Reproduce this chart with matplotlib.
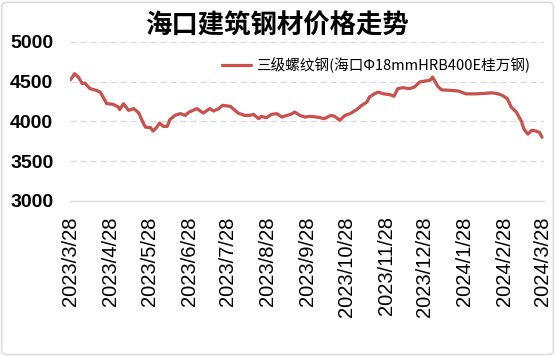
import matplotlib
matplotlib.use("Agg")
import matplotlib.pyplot as plt
from matplotlib.patches import FancyBboxPatch
import pandas as pd

# 三级螺纹钢 海口 价格 (元/吨)
dates = [
    "2023/3/28", "2023/3/31", "2023/4/3", "2023/4/6", "2023/4/8", "2023/4/12",
    "2023/4/17", "2023/4/20", "2023/4/25", "2023/4/30", "2023/5/4", "2023/5/5",
    "2023/5/8", "2023/5/12", "2023/5/16", "2023/5/20", "2023/5/23", "2023/5/25",
    "2023/5/29", "2023/5/31", "2023/6/3", "2023/6/5", "2023/6/8", "2023/6/11",
    "2023/6/13", "2023/6/17", "2023/6/21", "2023/6/25", "2023/6/28", "2023/7/4",
    "2023/7/9", "2023/7/14", "2023/7/17", "2023/7/21", "2023/7/24", "2023/7/30",
    "2023/8/1", "2023/8/5", "2023/8/10", "2023/8/14", "2023/8/17", "2023/8/21",
    "2023/8/23", "2023/8/27", "2023/8/31", "2023/9/4", "2023/9/8", "2023/9/12",
    "2023/9/15", "2023/9/18", "2023/9/22", "2023/9/26", "2023/9/30", "2023/10/5",
    "2023/10/11", "2023/10/16", "2023/10/19", "2023/10/23", "2023/10/27", "2023/10/31",
    "2023/11/5", "2023/11/9", "2023/11/13", "2023/11/15", "2023/11/19", "2023/11/22",
    "2023/11/25", "2023/12/1", "2023/12/4", "2023/12/7", "2023/12/11", "2023/12/16",
    "2023/12/20", "2023/12/24", "2023/12/28", "2024/1/1", "2024/1/3", "2024/1/7",
    "2024/1/10", "2024/1/16", "2024/1/23", "2024/1/29", "2024/2/5", "2024/2/11",
    "2024/2/18", "2024/2/22", "2024/2/26", "2024/3/1", "2024/3/4", "2024/3/8",
    "2024/3/12", "2024/3/14", "2024/3/17", "2024/3/20", "2024/3/23", "2024/3/26",
    "2024/3/28",
]
prices = [
    4524, 4599, 4556, 4474, 4481, 4411,
    4389, 4368, 4222, 4214, 4180, 4147,
    4222, 4138, 4160, 4104, 3991, 3928,
    3921, 3878, 3928, 3979, 3937, 3937,
    4021, 4075, 4097, 4075, 4117, 4160,
    4104, 4160, 4129, 4160, 4201, 4188,
    4160, 4104, 4075, 4075, 4088, 4034,
    4063, 4046, 4088, 4097, 4054, 4075,
    4088, 4117, 4075, 4054, 4063, 4054,
    4034, 4075, 4063, 4013, 4075, 4097,
    4147, 4201, 4242, 4305, 4348, 4368,
    4348, 4335, 4314, 4411, 4423, 4411,
    4431, 4494, 4506, 4515, 4556, 4440,
    4395, 4390, 4381, 4345, 4345, 4350,
    4358, 4350, 4327, 4285, 4180, 4117,
    4000, 3900, 3840, 3887, 3880, 3860,
    3800,
]
tick_labels = [
    "2023/3/28", "2023/4/28", "2023/5/28", "2023/6/28", "2023/7/28",
    "2023/8/28", "2023/9/28", "2023/10/28", "2023/11/28", "2023/12/28",
    "2024/1/28", "2024/2/28", "2024/3/28",
]
yticks = [3000, 3500, 4000, 4500, 5000]

title = "海口建筑钢材价格走势"
series_name = "三级螺纹钢(海口Φ18mmHRB400E桂万钢)"

cjk = ["Noto Sans CJK SC", "DejaVu Sans"]
W, H = 555, 356

fig = plt.figure(figsize=(W / 100, H / 100), dpi=100)
ax = fig.add_axes([70 / W, 1 - 201 / H, (544 - 70) / W, (201 - 41.7) / H])

x = pd.to_datetime(dates, format="%Y/%m/%d")
ticks = pd.to_datetime(tick_labels, format="%Y/%m/%d")

line, = ax.plot(x, prices, color="#C9504B", lw=2.3, solid_joinstyle="round",
                solid_capstyle="round", label=series_name)

ax.set_ylim(3000, 5000)
ax.set_xlim(ticks[0] - pd.Timedelta(days=0.5), ticks[-1] + pd.Timedelta(days=1.5))

ax.set_yticks(yticks)
ax.set_yticklabels([str(v) for v in yticks], fontfamily="Liberation Sans",
                   fontweight="bold", fontsize=14)
ax.set_xticks(ticks)
ax.set_xticklabels(tick_labels, rotation=90, fontfamily="Liberation Sans",
                   fontsize=14.5)
ax.tick_params(axis="y", length=0, pad=12)
ax.tick_params(axis="x", length=0, pad=11)

ax.yaxis.grid(True, color="#d9d9d9", linestyle=(0, (5, 3)), lw=0.9)
ax.set_axisbelow(True)
for side in ["top", "right", "left"]:
    ax.spines[side].set_visible(False)
ax.spines["bottom"].set_color("#d9d9d9")
ax.spines["bottom"].set_linewidth(1)

fig.text(277 / W, 1 - 26 / H, title, ha="center", va="center",
         fontsize=19, fontweight="bold", family=cjk)

fig.legend(handles=[line], loc="center left",
           bbox_to_anchor=(222 / W, 1 - 65 / H), frameon=False,
           borderaxespad=0, borderpad=0, handlelength=2.0, handletextpad=0.35,
           prop={"family": cjk, "size": 10.5})

fig.patches.append(FancyBboxPatch((0.003, 0.004), 0.994, 0.99,
                                  boxstyle="round,pad=0,rounding_size=0.012",
                                  transform=fig.transFigure, fill=False,
                                  ec="#d9d9d9", lw=1))

fig.savefig("out.png", dpi=100, facecolor="white")
